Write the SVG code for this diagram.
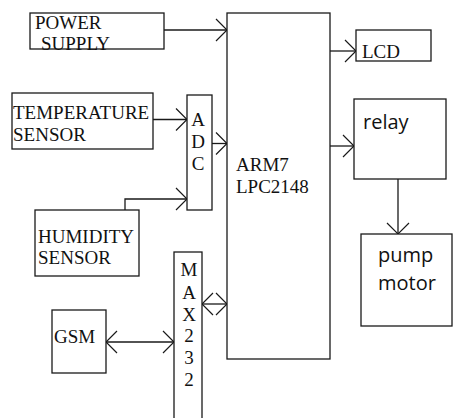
<svg xmlns="http://www.w3.org/2000/svg" width="453" height="418" viewBox="0 0 453 418">
<defs>
<style>
.box{fill:#fff;stroke:#1a1a1a;stroke-width:1.3}
.t{font-family:"Liberation Serif","Times New Roman",serif;font-size:19px;fill:#111}
.s{font-family:"Open Sans","Liberation Sans",sans-serif;font-size:20px;fill:#111}
.c{fill:none;stroke:#1a1a1a;stroke-width:1.3}
</style>
<marker id="ah" viewBox="-14 -12 16 24" markerWidth="16" markerHeight="24" refX="0" refY="0" orient="auto-start-reverse" markerUnits="userSpaceOnUse">
<path d="M-11,-11 L0,0 L-11,11" fill="none" stroke="#1a1a1a" stroke-width="1.2"/>
</marker>
</defs>
<rect width="453" height="418" fill="#fff"/>
<g id="connectors">
<path class="c" d="M164,30 H227" marker-end="url(#ah)"/>
<path class="c" d="M153,119.5 H187" marker-end="url(#ah)"/>
<path class="c" d="M125,210 V199 H187" marker-end="url(#ah)"/>
<path class="c" d="M212,143.5 H227" marker-end="url(#ah)"/>
<path class="c" d="M330,51 H356" marker-end="url(#ah)"/>
<path class="c" d="M330,146 H354" marker-end="url(#ah)"/>
<path class="c" d="M398,179 V234" marker-end="url(#ah)"/>
<path class="c" d="M106,342 H174" marker-start="url(#ah)" marker-end="url(#ah)"/>
<path class="c" d="M202,304 H227" marker-start="url(#ah)" marker-end="url(#ah)"/>
</g>
<g id="power-supply">
<rect class="box" x="30" y="13" width="134" height="36"/>
<text class="t" x="35" y="29">POWER</text>
<text class="t" x="41" y="50">SUPPLY</text>
</g>
<g id="temperature-sensor">
<rect class="box" x="12" y="93" width="141" height="56"/>
<text class="t" x="13" y="119">TEMPERATURE</text>
<text class="t" x="13" y="141">SENSOR</text>
</g>
<g id="adc">
<rect class="box" x="187" y="95" width="25" height="115"/>
<text class="t" x="198" y="126" text-anchor="middle">A</text>
<text class="t" x="198" y="148" text-anchor="middle">D</text>
<text class="t" x="198" y="170" text-anchor="middle">C</text>
</g>
<g id="humidity-sensor">
<rect class="box" x="35" y="210" width="104" height="66"/>
<text class="t" x="38" y="243">HUMIDITY</text>
<text class="t" x="38" y="264">SENSOR</text>
</g>
<g id="gsm">
<rect class="box" x="52" y="310" width="54" height="63"/>
<text class="t" x="54" y="343">GSM</text>
</g>
<g id="max232">
<rect class="box" x="174" y="252" width="28" height="175"/>
<text class="t" x="189" y="276" text-anchor="middle">M</text>
<text class="t" x="189" y="299" text-anchor="middle">A</text>
<text class="t" x="189" y="321" text-anchor="middle">X</text>
<text class="t" x="189" y="342" text-anchor="middle">2</text>
<text class="t" x="189" y="364" text-anchor="middle">3</text>
<text class="t" x="189" y="386" text-anchor="middle">2</text>
</g>
<g id="arm7">
<rect class="box" x="227" y="13" width="103" height="346"/>
<text class="t" x="236" y="171">ARM7</text>
<text class="t" x="236" y="193">LPC2148</text>
</g>
<g id="lcd">
<rect class="box" x="356" y="30" width="75" height="31"/>
<text class="t" x="362" y="58">LCD</text>
</g>
<g id="relay">
<rect class="box" x="354" y="99" width="92" height="80"/>
<text class="s" x="363" y="129">relay</text>
</g>
<g id="pump-motor">
<rect class="box" x="361" y="234" width="91" height="92"/>
<text class="s" x="378" y="262">pump</text>
<text class="s" x="378" y="290">motor</text>
</g>
</svg>
